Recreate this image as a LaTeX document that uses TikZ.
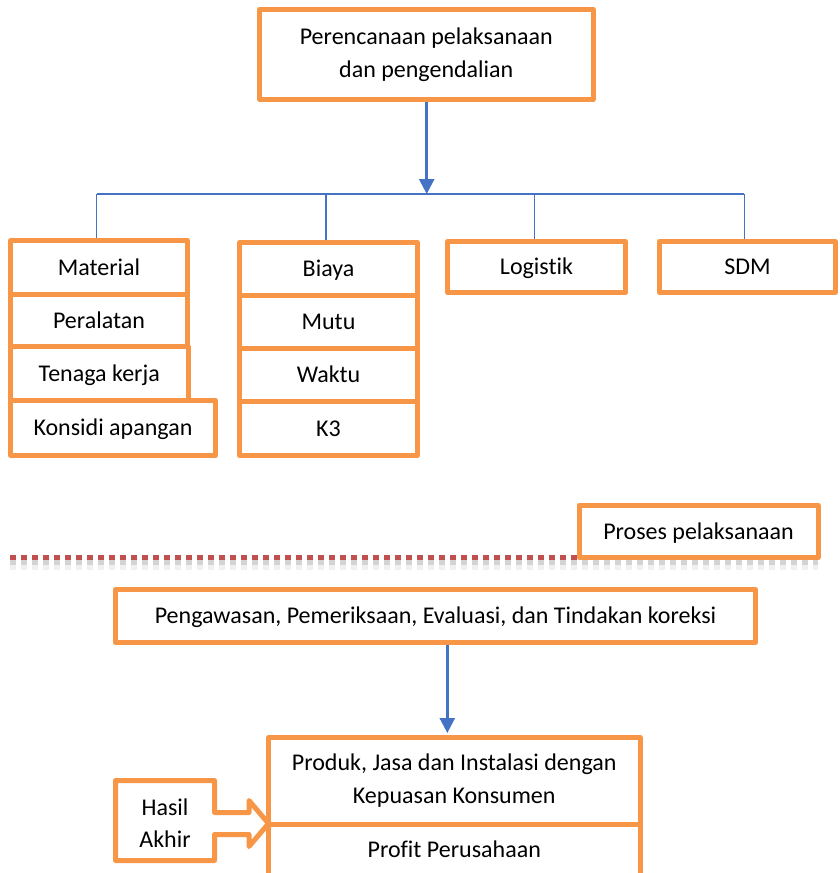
\documentclass[tikz,border=0pt]{standalone}
\usepackage{fontspec}
\setmainfont{Carlito}[Ligatures=NoCommon]
\usetikzlibrary{arrows.meta}
\definecolor{boxorange}{HTML}{F79646}
\definecolor{linkblue}{HTML}{4472C4}
\definecolor{dotred}{HTML}{C0504D}
\tikzset{
  box/.style={draw=boxorange, line width=5pt, line join=round, fill=white,
    inner sep=0pt, text height=15.5pt, text depth=0pt},
  tallbox/.style={draw=boxorange, line width=5pt, line join=round, fill=white,
    inner sep=0pt, align=center},
  bus/.style={draw=linkblue, line width=1.5pt},
  flow/.style={draw=linkblue, line width=2.5pt, -{Triangle[length=15pt,width=15pt]}},
}
\begin{document}
\begin{tikzpicture}[x=1pt, y=-1pt, font=\fontsize{24}{33}\selectfont]
\useasboundingbox (0,0) rectangle (840,873);

% planning block
\node[tallbox, minimum width=333.5pt, minimum height=90pt] (plan) at (426.25,54.5)
  {Perencanaan pelaksanaan\\dan pengendalian};

% first column
\node[box, minimum width=177pt, minimum height=54pt] (material) at (99,267.5) {Material};
\node[box, minimum width=177pt, minimum height=52pt] (peralatan) at (99,320.5) {Peralatan};
\node[box, minimum width=177.5pt, minimum height=54pt] (tenaga) at (99.25,373.5) {Tenaga kerja};
\node[box, minimum width=205pt, minimum height=55pt] (kondisi) at (113,428) {Konsidi apangan};

% second column
\node[box, minimum width=178pt, minimum height=53pt] (biaya) at (328.5,269) {Biaya};
\node[box, minimum width=178pt, minimum height=53pt] (mutu) at (328.5,322) {Mutu};
\node[box, minimum width=178pt, minimum height=53pt] (waktu) at (328.5,375) {Waktu};
\node[box, minimum width=178pt, minimum height=54pt] (k3) at (328.5,428.5) {K3};

% single boxes
\node[box, minimum width=178pt, minimum height=51pt] (logistik) at (536.5,267) {Logistik};
\node[box, minimum width=176pt, minimum height=51pt] (sdm) at (747.5,267) {SDM};

% distribution lines
\coordinate (busL) at (96.7,194);
\coordinate (busR) at (744.3,194);
\coordinate (busC) at (426.7,194);
\coordinate (dropB) at (326,194);
\coordinate (dropC) at (534.3,194);
\draw[flow] (busC |- plan.south) -- (busC);
\draw[bus] (busL) -- (busR);
\draw[bus] (busL) -- (busL |- material.north);
\draw[bus] (dropB) -- (dropB |- biaya.north);
\draw[bus] (dropC) -- (dropC |- logistik.north);
\draw[bus] (busR) -- (busR |- sdm.north);

% separator with its soft shadow
\coordinate (sepL) at (10,557.5);
\coordinate (sepR) at (818,557.5);
\draw[gray, opacity=0.12, line width=10pt, dash pattern=on 6pt off 5pt]
  ([yshift=-7pt]sepL) -- ([yshift=-7pt]sepR);
\draw[gray, opacity=0.25, line width=5pt, dash pattern=on 6pt off 5pt]
  ([yshift=-5pt]sepL) -- ([yshift=-5pt]sepR);
\draw[dotred, line width=5pt, dash pattern=on 6pt off 5pt] (sepL) -- (sepR);

\node[box, minimum width=239pt, minimum height=52pt] (proses) at (698.5,531.5) {Proses pelaksanaan};

% execution block
\node[box, minimum width=640pt, minimum height=53pt] (kontrol) at (435.5,616)
  {Pengawasan, Pemeriksaan, Evaluasi, dan Tindakan koreksi};

% result callout
\draw[draw=boxorange, line width=5pt, line join=round, fill=white]
  (115.5,780.5) -- (214.5,780.5) -- (214.5,812.5) -- (249,812.5) -- (249,800.5)
  -- (268.5,823.5) -- (249,846.5) -- (249,834.5) -- (214.5,834.5)
  -- (214.5,860.5) -- (115.5,860.5) -- cycle;
\node[align=center, font=\fontsize{24}{32}\selectfont] (hasil) at (165,823) {Hasil\\Akhir};

\node[tallbox, minimum width=371.5pt, minimum height=86.5pt] (produk) at (454.25,780.75)
  {Produk, Jasa dan Instalasi dengan\\Kepuasan Konsumen};
\node[box, minimum width=371.5pt, minimum height=52pt] (profit) at (454.25,850) {Profit Perusahaan};

\coordinate (flowX) at (447.3,0);
\draw[flow, shorten >=2pt] (flowX |- kontrol.south) -- (flowX |- produk.north);
\end{tikzpicture}
\end{document}
